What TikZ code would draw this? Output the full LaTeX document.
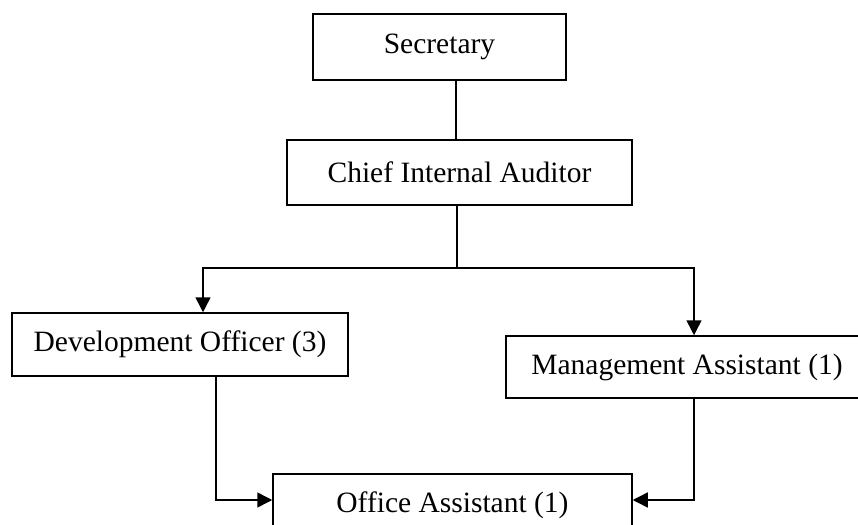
\documentclass[tikz,border=0pt]{standalone}
\usepackage{fontspec}
\setmainfont{Liberation Serif}
\usetikzlibrary{arrows.meta}
\begin{document}
\begin{tikzpicture}[x=1pt,y=-1pt,
  orgbox/.style={draw,line width=1.5pt,rectangle,inner sep=0pt,font=\fontsize{29.5}{34}\selectfont},
  conn/.style={line width=1.5pt},
  arr/.style={conn,-{Triangle[length=15pt,width=15pt]}}]
\useasboundingbox (0,0) rectangle (858,524);
\node[orgbox,minimum width=253pt,minimum height=66pt] (sec) at (439.5,47) {Secretary};
\node[orgbox,minimum width=345pt,minimum height=65pt] (cia) at (459.5,172.5) {Chief Internal Auditor};
\node[orgbox,minimum width=336pt,minimum height=63pt] (dev) at (180,344.5) {Development Officer (3)};
\node[orgbox,minimum width=362pt,minimum height=62pt] (mgmt) at (687,367) {Management Assistant (1)};
\node[orgbox,minimum width=359pt,minimum height=62pt] (office) at (452.5,505) {Office Assistant (1)};
\coordinate (spine) at (456,0);
\coordinate (busL) at (203,268);
\coordinate (busR) at (694,268);
\coordinate (busM) at (457,268);
\coordinate (devdown) at (216,500);
\coordinate (mgmtdown) at (694,500);
\draw[conn] (sec.south -| spine) -- (cia.north -| spine);
\draw[conn] (cia.south -| busM) -- (busM);
\draw[arr] (busM) -- (busL) -- (dev.north -| busL);
\draw[arr] (busM) -- (busR) -- (mgmt.north -| busR);
\draw[arr] (dev.south -| devdown) -- (devdown) -- (office.west |- devdown);
\draw[arr] (mgmt.south -| mgmtdown) -- (mgmtdown) -- (office.east |- mgmtdown);
\end{tikzpicture}
\end{document}
